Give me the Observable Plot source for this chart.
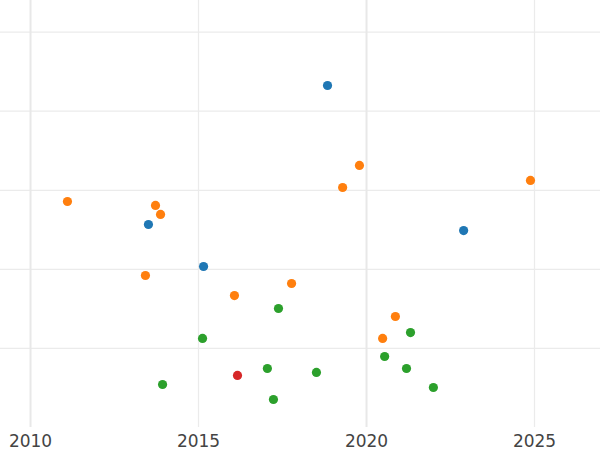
<!DOCTYPE html>
<html>
<head>
<meta charset="utf-8">
<script src="https://cdn.jsdelivr.net/npm/d3@7"></script>
<script src="https://cdn.jsdelivr.net/npm/@observablehq/plot@0.6"></script>
<style>
  html, body { margin: 0; padding: 0; background: #fff; }
  #chart svg { display: block; }
</style>
</head>
<body>
<div id="chart"></div>
<script>
// Series values (x = year, y = value in arbitrary units)
const seriesAYear   = [2018.84, 2013.51, 2022.89, 2015.15];
const seriesAValue  = [43.25, 25.67, 24.91, 20.36];

const seriesBYear  = [2011.10, 2013.72, 2013.87, 2013.42, 2019.79, 2019.29, 2024.88, 2016.07, 2017.77, 2020.86, 2020.48];
const seriesBValue = [28.58, 28.08, 26.94, 19.22, 33.14, 30.35, 31.24, 16.69, 18.21, 14.04, 11.26];

const seriesCYear  = [2017.38, 2015.12, 2013.93, 2017.05, 2017.23, 2018.51, 2020.54, 2021.31, 2021.19, 2021.99];
const seriesCValue = [15.05, 11.26, 5.44, 7.46, 3.54, 6.96, 8.98, 12.01, 7.46, 5.06];

const seriesDYear  = [2016.16];
const seriesDValue = [6.58];

const seriesNames  = ["Series A", "Series B", "Series C", "Series D"];
const seriesColors = ["#1f77b4", "#ff7f0e", "#2ca02c", "#d62728"];

const xTicks = [2010, 2015, 2020, 2025];
const xMajor = [2010, 2020];
const xMinor = [2015, 2025];
const yGrid  = [10, 20, 30, 40, 50];

const seriesX = [seriesAYear, seriesBYear, seriesCYear, seriesDYear];
const seriesY = [seriesAValue, seriesBValue, seriesCValue, seriesDValue];
const points = [];
seriesNames.forEach((name, i) => {
  seriesX[i].forEach((x, j) => points.push({series: name, year: x, value: seriesY[i][j]}));
});

const chart = Plot.plot({
  width: 600,
  height: 450,
  marginTop: 0,
  marginRight: 0,
  marginBottom: 23,
  marginLeft: 0,
  style: {background: "#fff", fontFamily: "DejaVu Sans", fontSize: "17px", color: "#444"},
  x: {domain: [2009.107, 2026.964], ticks: xTicks, tickFormat: "d", tickSize: 0, tickPadding: 7, label: null},
  y: {domain: [0, 54], axis: null},
  color: {type: "ordinal", domain: seriesNames, range: seriesColors},
  marks: [
    Plot.ruleY(yGrid, {stroke: "#ebebeb", strokeWidth: 1.3}),
    Plot.ruleX(xMinor, {stroke: "#ebebeb", strokeWidth: 1.2}),
    Plot.ruleX(xMajor, {stroke: "#e8e8e8", strokeWidth: 2}),
    Plot.dot(points, {x: "year", y: "value", fill: "series", r: 4.6, stroke: "none"})
  ]
});
document.getElementById("chart").appendChild(chart);
</script>
</body>
</html>
